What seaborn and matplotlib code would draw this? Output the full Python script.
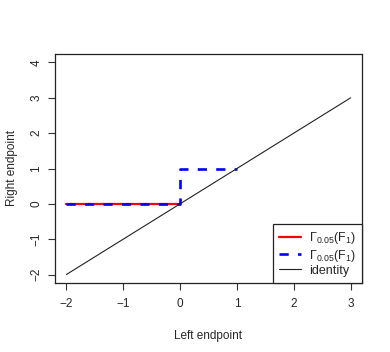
import matplotlib
matplotlib.use("Agg")
import matplotlib.pyplot as plt
import pandas as pd
import seaborn as sns

# data
lower_x = [-2, 0]
lower_y = [0, 0]
step_x = [-2, 0, 0, 1]
step_y = [0, 0, 1, 1]
ident_x = [-2, 3]
ident_y = [-2, 3]
x_ticks = [-2, -1, 0, 1, 2, 3]
y_ticks = [-2, -1, 0, 1, 2, 3, 4]
gamma_label = r"$\Gamma_{0.05}(\mathrm{F}_1)$"

sns.set_style("ticks")
plt.rcParams["font.family"] = ["Liberation Sans", "DejaVu Sans"]
plt.rcParams["mathtext.fontset"] = "custom"
plt.rcParams["mathtext.rm"] = "Liberation Sans"
plt.rcParams["mathtext.it"] = "Liberation Sans"
plt.rcParams["axes.unicode_minus"] = True

df_low = pd.DataFrame({"x": lower_x, "y": lower_y})
df_step = pd.DataFrame({"x": step_x, "y": step_y})
df_id = pd.DataFrame({"x": ident_x, "y": ident_y})

fig = plt.figure(figsize=(3.9, 3.52), dpi=100)
ax = fig.add_axes([55 / 390, 1 - 283 / 352, 307 / 390, 229 / 352])

sns.lineplot(data=df_low, x="x", y="y", sort=False, estimator=None,
             color="#ff0000", lw=1.6, ax=ax, label=gamma_label)
sns.lineplot(data=df_step, x="x", y="y", sort=False, estimator=None,
             color="#0000ff", lw=1.9, ax=ax, label=gamma_label,
             linestyle=(0, (3.5, 3.5)))
sns.lineplot(data=df_id, x="x", y="y", sort=False, estimator=None,
             color="#222222", lw=0.8, ax=ax, label="identity")

ax.set_xlim(-2.2, 3.2)
ax.set_ylim(-2.24, 4.24)
ax.set_xticks(x_ticks)
ax.set_yticks(y_ticks)
ax.set_xlabel("Left endpoint", fontsize=8.5, labelpad=14)
ax.set_ylabel("Right endpoint", fontsize=8.5, labelpad=9)
ax.tick_params(axis="both", labelsize=8.5, length=5, width=0.8, pad=6,
               color="#333333")
ax.tick_params(axis="y", labelrotation=90, pad=4)
for lab in ax.get_yticklabels():
    lab.set_va("center")
for sp in ax.spines.values():
    sp.set_linewidth(0.9)
    sp.set_color("#222222")

leg = ax.legend(loc="lower right", borderaxespad=0, fancybox=False,
                framealpha=1, edgecolor="#222222", fontsize=9,
                handlelength=1.8, handletextpad=0.6, labelspacing=0.1,
                borderpad=0.5)
leg.get_frame().set_linewidth(0.9)

fig.savefig("out.png", dpi=100)
